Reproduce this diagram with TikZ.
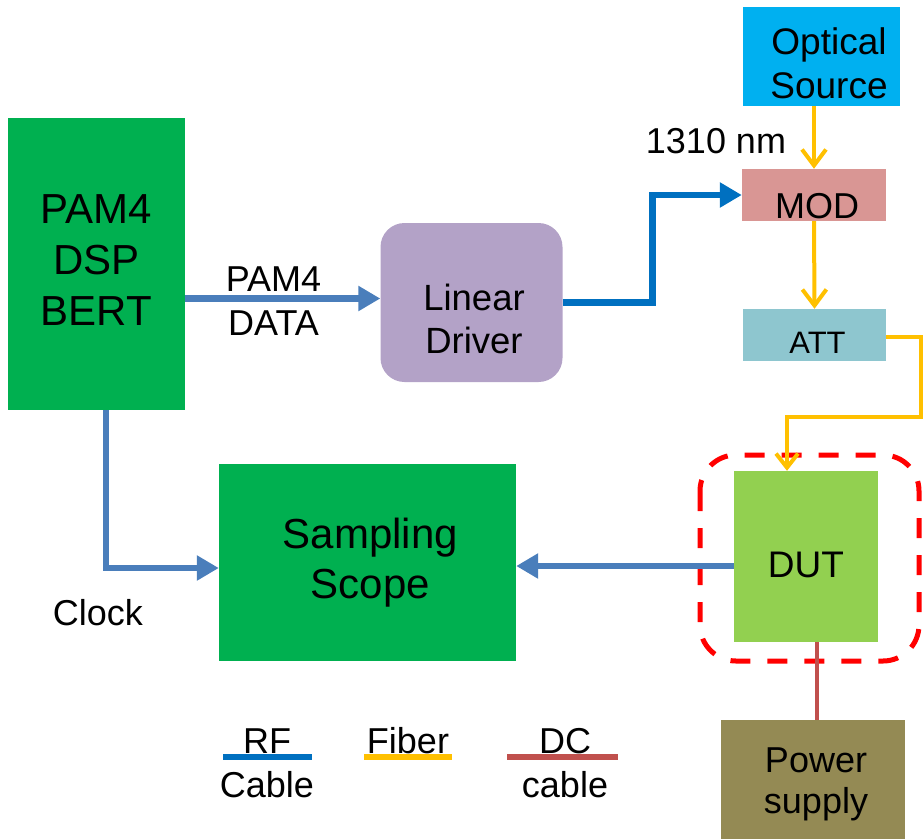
\documentclass[tikz,border=0pt]{standalone}
\usepackage{fontspec}
\setmainfont{Liberation Sans}
\usepackage{tikz}
\usetikzlibrary{arrows.meta}

\definecolor{boxgreen}{HTML}{00B050}
\definecolor{drvpurple}{HTML}{B3A2C7}
\definecolor{srccyan}{HTML}{00B0F0}
\definecolor{modpink}{HTML}{D99694}
\definecolor{attteal}{HTML}{8EC6CF}
\definecolor{dutgreen}{HTML}{92D050}
\definecolor{psuolive}{HTML}{948A54}
\definecolor{rfblue}{HTML}{4A7EBB}
\definecolor{rfdark}{HTML}{0070C0}
\definecolor{fibre}{HTML}{FFC000}
\definecolor{dcred}{HTML}{C0504D}

% first baseline raised by #1 above the node centre
\newcommand{\boxlines}[2]{\raisebox{#1}[0pt][0pt]{\begin{tabular}[t]{@{}c@{}}#2\end{tabular}}}

\tikzset{
  txt/.style={font=\fontsize{36}{44}\selectfont, inner sep=0pt},
  block/.style={txt, draw=none, minimum width=#1},
  rfline/.style={rfblue, line width=6.5pt, -{Triangle[length=22pt,width=24pt]}},
  fibreline/.style={fibre, line width=4pt, -{Straight Barb[length=16pt,width=24pt,line width=4pt]}},
  dcline/.style={dcred, line width=4pt}
}

\begin{document}
\begin{tikzpicture}[x=1pt,y=-1pt]
    \useasboundingbox (0,0) rectangle (923,839);

    % blocks
    \node[block=177pt, fill=boxgreen, minimum height=292pt, font=\fontsize{42}{51}\selectfont] (bert) at (96.5,264) {\boxlines{41pt}{PAM4\\DSP\\BERT}};
    \node[block=182pt, fill=drvpurple, minimum height=159pt, rounded corners=24pt, font=\fontsize{36.5}{43}\selectfont] (driver) at (471.5,302.5) {\hspace*{5pt}\boxlines{-7.5pt}{Linear\\Driver}};
    \node[block=157pt, fill=srccyan, minimum height=99pt, font=\fontsize{37}{44}\selectfont] (src) at (821.5,56.5) {\hspace*{15pt}\boxlines{2.5pt}{Optical\\Source}};
    \node[block=144pt, fill=modpink, minimum height=52pt] (mod) at (814,195) {\hspace*{6pt}\boxlines{-23pt}{MOD}};
    \node[block=143pt, fill=attteal, minimum height=52pt, font=\fontsize{31}{36}\selectfont] (att) at (814.5,335) {\hspace*{6pt}\boxlines{-18pt}{ATT}};
    \node[block=144pt, fill=dutgreen, minimum height=171pt, font=\fontsize{37}{44}\selectfont] (dut) at (806,556.5) {\boxlines{-20.5pt}{DUT}};
    \node[block=297pt, fill=boxgreen, minimum height=197pt, font=\fontsize{42}{50}\selectfont] (scope) at (367.5,562.5) {\hspace*{6pt}\boxlines{14.5pt}{Sampling\\Scope}};
    \node[block=184pt, fill=psuolive, minimum height=119pt, font=\fontsize{36}{41}\selectfont] (psu) at (812.5,779.5) {\hspace*{7pt}\boxlines{7.5pt}{Power\\supply}};

    \draw[red, line width=5pt, dash pattern=on 20pt off 17pt, rounded corners=36pt] (700,455) rectangle (919,661);

    % connections
    \draw[rfline] (bert.east |- 0,298.5) -- ([yshift=4pt]driver.west);
    \draw[rfline, rfdark] (driver.east) -- ++(90,0) |- (mod.west);
    \draw[rfline] ([xshift=9.5pt]bert.south) |- ([yshift=-5.5pt]scope.west);
    \draw[rfline] (dut.west |- 0,566) -- ([yshift=-3.5pt]scope.east);
    \draw[fibreline] (src.south -| mod.north) -- (mod.north);
    \draw[fibreline] (mod.south) -- (att.north);
    \coordinate (turn) at (921,416.5);
    \draw[fibreline, -{Straight Barb[length=14pt,width=22pt,line width=4pt]}] ([yshift=-2pt]att.east) -| (turn) -| ([xshift=-19pt]dut.north);
    \draw[dcline] (dut.south -| 817,0) -- ([xshift=4.5pt]psu.north);

    % labels
    \node[txt] (datalbl) at (273.5,291) {\boxlines{0pt}{PAM4\\DATA}};
    \node[txt] (wavelbl) at (716,153) {\boxlines{0pt}{1310 nm}};
    \node[txt] (clklbl) at (98,625) {\boxlines{0pt}{Clock}};

    % legend
    \draw[rfdark, line width=5.5pt] (223,757) -- (312,757);
    \node[txt] (rflbl) at (267,753) {\boxlines{0pt}{RF\\Cable}};
    \draw[fibre, line width=5.5pt] (364,757) -- (452,757);
    \node[txt] (fibrelbl) at (408,753) {\boxlines{0pt}{Fiber}};
    \draw[dcred, line width=5.5pt] (507,757) -- (618,757);
    \node[txt] (dclbl) at (565,753) {\boxlines{0pt}{DC\\cable}};
\end{tikzpicture}
\end{document}
